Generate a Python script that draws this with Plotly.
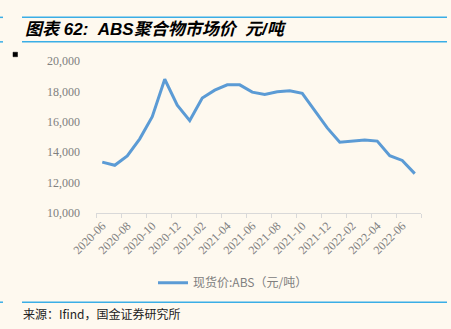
import plotly.graph_objects as go

months = ["2020-06", "2020-07", "2020-08", "2020-09", "2020-10", "2020-11", "2020-12",
          "2021-01", "2021-02", "2021-03", "2021-04", "2021-05", "2021-06", "2021-07",
          "2021-08", "2021-09", "2021-10", "2021-11", "2021-12", "2022-01", "2022-02",
          "2022-03", "2022-04", "2022-05", "2022-06", "2022-07"]
abs_price = [13350, 13140, 13750, 14880, 16340, 18800, 17100, 16080, 17560, 18080,
             18430, 18430, 17950, 17800, 17970, 18040, 17870, 16730, 15600, 14660,
             14750, 14810, 14730, 13770, 13460, 12590]
y_ticks = [10000, 12000, 14000, 16000, 18000, 20000]
y_tick_text = ["10,000", "12,000", "14,000", "16,000", "18,000", "20,000"]
series_name = "现货价:ABS（元/吨）"
title_text = "图表 62:\u00a0 ABS聚合物市场价\u00a0 元/吨"
source_text = "来源：Ifind，国金证券研究所"

W, H = 451, 329
L, R, T, B = 96, 30, 60.5, 116
PW, PH = W - L - R, H - T - B

def px(x):
    return (x - L) / PW

def py(y):
    return (H - B - y) / PH

xs = list(range(len(months)))

fig = go.Figure()
fig.add_trace(go.Scatter(
    x=xs, y=abs_price, mode="lines", name=series_name,
    line=dict(color="#5B9BD5", width=3),
))

bg = "#FEF9EF"
blue = "#3AAEE6"
tick_font = dict(family="Liberation Serif, DejaVu Serif, serif", size=12, color="#808080")

fig.update_layout(
    width=W, height=H,
    margin=dict(l=L, r=R, t=T, b=B, pad=0),
    paper_bgcolor=bg, plot_bgcolor=bg,
    showlegend=True,
    legend=dict(orientation="h", x=px(153), y=py(283), xanchor="left", yanchor="middle",
                font=dict(family="Noto Sans CJK SC, sans-serif", size=12, color="#808080"),
                bgcolor="rgba(0,0,0,0)", itemwidth=30),
    xaxis=dict(
        range=[-0.5, len(months) - 0.5],
        tickmode="array", tickvals=xs[::2], ticktext=months[::2],
        tickangle=-45, ticks="", showgrid=False, zeroline=False,
        showline=True, linecolor="#D9D9D9", linewidth=1,
        tickfont=tick_font,
        minor=dict(tickmode="linear", tick0=-0.5, dtick=2, ticks="outside",
                   ticklen=4, tickcolor="#D9D9D9", tickwidth=1, showgrid=False),
    ),
    yaxis=dict(
        range=[10000, 20000], tickmode="array", tickvals=y_ticks, ticktext=y_tick_text,
        showgrid=False, zeroline=False, showline=False, ticks="",
        tickfont=tick_font, ticklabelstandoff=15,
    ),
)

shapes = []
for yy in (16.7, 41.3, 302.5):
    shapes.append(dict(type="line", xref="paper", yref="paper",
                       x0=px(22), x1=px(447), y0=py(yy), y1=py(yy),
                       line=dict(color=blue, width=1.5)))
    shapes.append(dict(type="line", xref="paper", yref="paper",
                       x0=px(0), x1=px(3), y0=py(yy), y1=py(yy),
                       line=dict(color=blue, width=1.5)))
shapes.append(dict(type="rect", xref="paper", yref="paper",
                   x0=px(13), x1=px(17.5), y0=py(56.2), y1=py(51.7),
                   fillcolor="black", line=dict(color="black", width=0.5)))
fig.update_layout(shapes=shapes)

fig.add_annotation(text="<b><i>" + title_text + "</i></b>", xref="paper", yref="paper",
                   x=px(23), y=py(29), xanchor="left", yanchor="middle", showarrow=False,
                   font=dict(family="Liberation Sans, Noto Sans CJK SC, sans-serif", size=17, color="black"))
fig.add_annotation(text=source_text, xref="paper", yref="paper",
                   x=px(21), y=py(314), xanchor="left", yanchor="middle", showarrow=False,
                   font=dict(family="Noto Sans CJK SC, sans-serif", size=12, color="#222222"))

fig.write_html("out.html")
